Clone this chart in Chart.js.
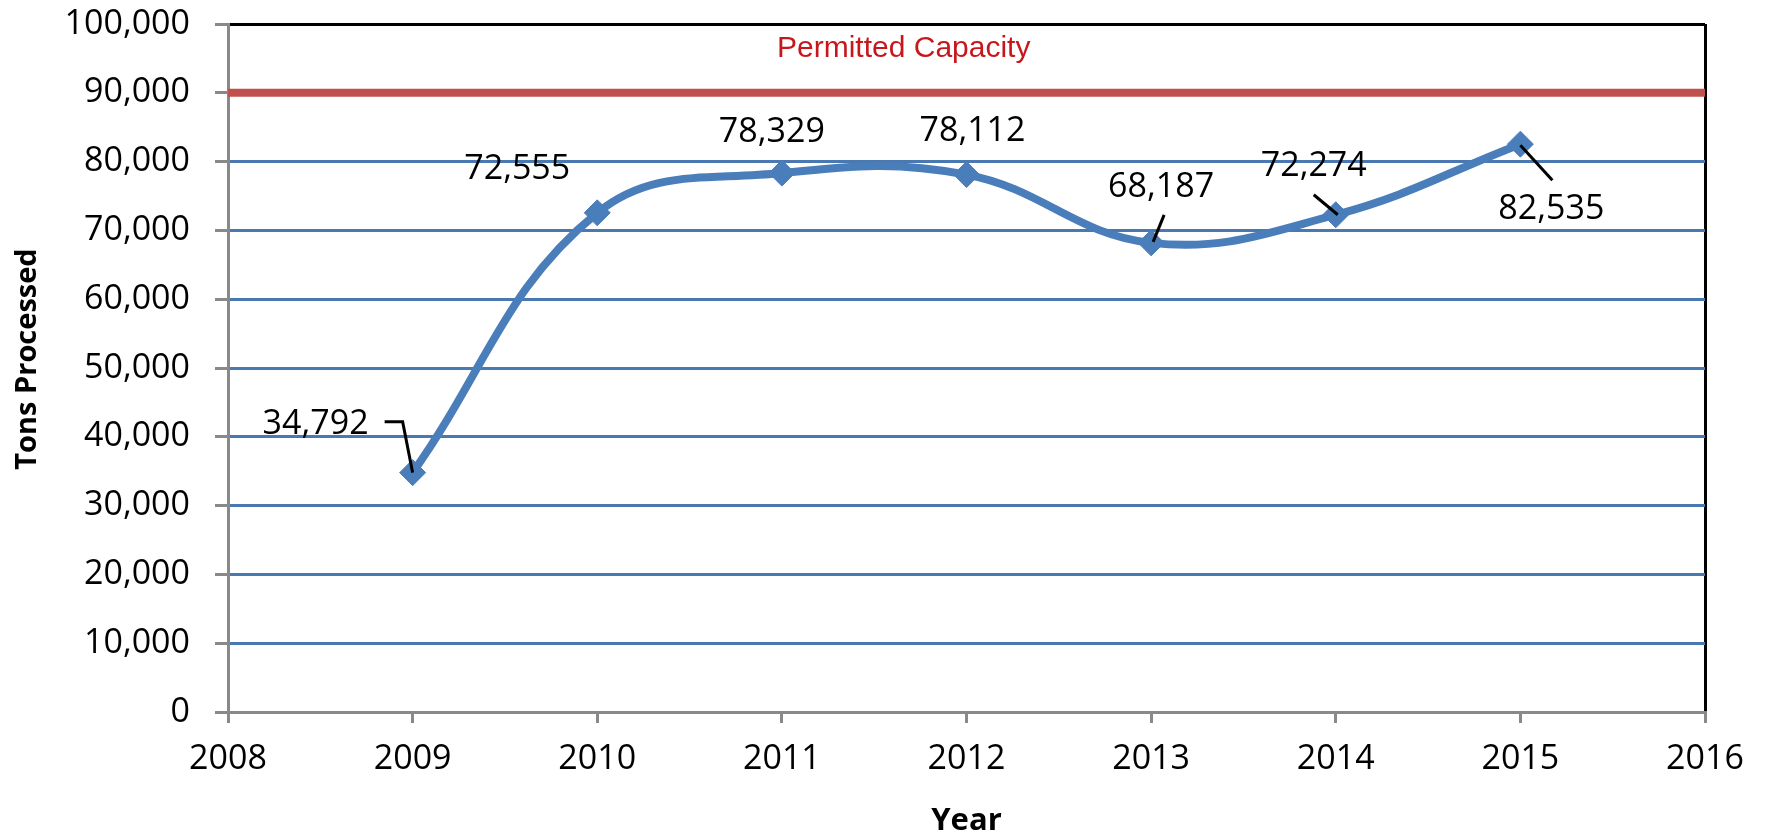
<!DOCTYPE html>
<html>
<head>
<meta charset="utf-8">
<script src="https://cdn.jsdelivr.net/npm/chart.js@4.4.1/dist/chart.umd.min.js"></script>
<style>
  html, body { margin: 0; padding: 0; background: #fff; }
  canvas { display: block; }
</style>
</head>
<body>
<canvas id="tonsChart" width="1765" height="837"></canvas>
<script>
/* Tons processed per year vs permitted capacity */
const years = [2009, 2010, 2011, 2012, 2013, 2014, 2015];
const tonsProcessed = [34792, 72555, 78329, 78112, 68187, 72274, 82535];
const yearRange = [2008, 2016];
const tonsRange = [0, 100000];
const permittedCapacity = 90000;
const capacityLabel = 'Permitted Capacity';
const yTitle = 'Tons Processed';
const xTitle = 'Year';

// label placement (pixel offsets from each point) and leader lines
const labelOffsets = [[-97, -48], [-80, -44], [-10, -41], [6, -43], [10, -56], [-22, -48], [31, 65]];
const leaderLines = [
  [[-28, -51], [-10, -51], [0, 0]],
  null,
  null,
  null,
  [[13, -28], [2, -1]],
  [[-22, -20], [2, 0]],
  [[0, 1], [32, 36]]
];

const FONT = "'Open Sans', 'DejaVu Sans', sans-serif";
const BLUE = '#4A7EBB';
const GRID_BLUE = '#4A78B0';
const AXIS_GREY = '#898989';

const fmt = v => v.toLocaleString('en-US');

const labelPlugin = {
  id: 'pointLabels',
  afterDatasetsDraw(chart) {
    const ctx = chart.ctx;
    const meta = chart.getDatasetMeta(0);
    const area = chart.chartArea;
    ctx.save();
    // leader lines
    ctx.strokeStyle = '#000';
    ctx.lineWidth = 3;
    meta.data.forEach((pt, i) => {
      const seg = leaderLines[i];
      if (!seg) return;
      ctx.beginPath();
      seg.forEach((p, j) => {
        if (j === 0) ctx.moveTo(pt.x + p[0], pt.y + p[1]);
        else ctx.lineTo(pt.x + p[0], pt.y + p[1]);
      });
      ctx.stroke();
    });
    // value labels
    ctx.fillStyle = '#000';
    ctx.font = '34px ' + FONT;
    ctx.textAlign = 'center';
    ctx.textBaseline = 'middle';
    meta.data.forEach((pt, i) => {
      const o = labelOffsets[i];
      ctx.fillText(fmt(tonsProcessed[i]), pt.x + o[0], pt.y + o[1]);
    });
    // capacity caption
    const xs = chart.scales.x, ys = chart.scales.y;
    ctx.fillStyle = '#C8171C';
    ctx.font = '30px "Liberation Sans", Arial, sans-serif';
    ctx.fillText(capacityLabel, xs.getPixelForValue(2011.66), ys.getPixelForValue(96400));
    // y axis title (sits a little above the plot centre, as in the original)
    ctx.fillStyle = '#000';
    ctx.font = 'bold 29px ' + FONT;
    ctx.translate(28, (area.top + area.bottom) / 2 - 9);
    ctx.rotate(-Math.PI / 2);
    ctx.fillText(yTitle, 0, 0);
    ctx.restore();
  }
};

new Chart(document.getElementById('tonsChart'), {
  type: 'line',
  data: {
    datasets: [
      {
        label: yTitle,
        data: years.map((y, i) => ({ x: y, y: tonsProcessed[i] })),
        borderColor: BLUE,
        backgroundColor: BLUE,
        borderWidth: 8,
        tension: 0.4,
        pointStyle: 'rectRot',
        pointRadius: 13,
        pointBorderWidth: 1,
        pointBackgroundColor: BLUE,
        pointBorderColor: BLUE,
        order: 1
      },
      {
        label: capacityLabel,
        data: yearRange.map(y => ({ x: y, y: permittedCapacity })),
        borderColor: '#C0504D',
        borderWidth: 8,
        pointRadius: 0,
        tension: 0,
        order: 2
      }
    ]
  },
  options: {
    responsive: false,
    animation: false,
    layout: { padding: { top: 24, right: 60, bottom: 0, left: 0 } },
    plugins: { legend: { display: false }, tooltip: { enabled: false } },
    scales: {
      x: {
        type: 'linear',
        min: yearRange[0], max: yearRange[1],
        afterFit: s => { s.height = 125; s.paddingLeft = 0; s.paddingRight = 0; },
        ticks: {
          stepSize: 1,
          padding: 16,
          color: '#000',
          font: { family: FONT, size: 34, lineHeight: 1.2 },
          callback: v => String(v)
        },
        grid: {
          drawOnChartArea: true,
          color: c => (c.tick && c.tick.value === yearRange[1]) ? '#000' : 'rgba(0,0,0,0)',
          lineWidth: 3,
          tickLength: 11,
          tickColor: AXIS_GREY,
          tickWidth: 3
        },
        border: { color: AXIS_GREY, width: 3 },
        title: {
          display: true,
          text: xTitle,
          color: '#000',
          font: { family: FONT, size: 31, weight: 'bold', lineHeight: 1 },
          padding: { top: 2, bottom: 0 }
        }
      },
      y: {
        min: tonsRange[0], max: tonsRange[1],
        afterFit: s => { s.width = 228; s.paddingTop = 0; s.paddingBottom = 0; },
        ticks: {
          stepSize: 10000,
          padding: 25,
          color: '#000',
          font: { family: FONT, size: 34, lineHeight: 1.2 },
          callback: v => fmt(v)
        },
        grid: {
          color: c => (c.tick && c.tick.value === tonsRange[1]) ? '#000' : GRID_BLUE,
          lineWidth: 3,
          tickLength: 13,
          tickColor: AXIS_GREY,
          tickWidth: 3
        },
        border: { color: AXIS_GREY, width: 3 },
        title: { display: false }
      }
    }
  },
  plugins: [labelPlugin]
});
</script>
</body>
</html>
